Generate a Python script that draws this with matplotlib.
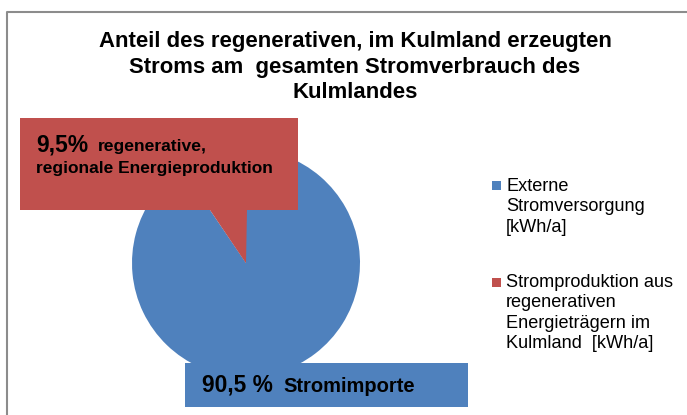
import matplotlib.pyplot as plt
from matplotlib.patches import Rectangle, Polygon

# data
shares = [90.5, 9.5]
legend_labels = ["Externe\nStromversorgung\n[kWh/a]",
                 "Stromproduktion aus\nregenerativen\nEnergieträgern im\nKulmland  [kWh/a]"]
colors = ["#4F81BD", "#C0504D"]
title_lines = ["Anteil des regenerativen, im Kulmland erzeugten",
               "Stroms am  gesamten Stromverbrauch des",
               "Kulmlandes"]

W, H = 687, 415
plt.rcParams['font.family'] = ['Liberation Sans', 'DejaVu Sans']
fig = plt.figure(figsize=(W / 100, H / 100), dpi=100)

# pixel-space overlay
bg = fig.add_axes([0, 0, 1, 1])
bg.set_xlim(0, W)
bg.set_ylim(H, 0)
bg.axis('off')
bg.plot([7, 7, W + 5], [H + 5, 12, 12], color='#8c8c8c', lw=1.5)

for i, line in enumerate(title_lines):
    bg.text(355, 41 + 26 * i, line, ha='center', va='center', fontsize=15.9,
            fontweight='bold')

# pie
cx, cy, r = 246, 263, 114
pax = fig.add_axes([(cx - r) / W, (H - cy - r) / H, 2 * r / W, 2 * r / H])
wedges, _ = pax.pie(shares, colors=colors, startangle=90, counterclock=False,
                    radius=1, wedgeprops=dict(linewidth=0))
pax.set_xlim(-1, 1)
pax.set_ylim(-1, 1)
pax.set_zorder(1)

top = fig.add_axes([0, 0, 1, 1])
top.set_xlim(0, W)
top.set_ylim(H, 0)
top.axis('off')
top.set_zorder(2)

# red callout
top.add_patch(Rectangle((20, 118), 278, 92, color=colors[1], lw=0))
top.add_patch(Polygon([(210, 209), (247, 209), (cx, cy)], color=colors[1], lw=0))
top.text(36, 145, f"{shares[1]:.1f}%".replace('.', ','), fontsize=16.5, fontweight='bold',
         va='center')
top.text(98, 146, "regenerative,", fontsize=12.6, fontweight='bold', va='center')
top.text(36, 168, "regionale Energieproduktion", fontsize=12.5, fontweight='bold',
         va='center')

# blue label box
top.add_patch(Rectangle((185, 363), 283, 44, color=colors[0], lw=0))
top.text(202, 385, f"{shares[0]:.1f} %".replace('.', ','), fontsize=16.4,
         fontweight='bold', va='center')
top.text(283, 386, "Stromimporte", fontsize=14.5, fontweight='bold', va='center')

# legend
entry_y = [186, 282]
for y0, lab, col in zip(entry_y, legend_labels, colors):
    top.add_patch(Rectangle((492, y0 - 4.5), 9, 9, color=col, lw=0))
    for j, line in enumerate(lab.split('\n')):
        top.text(506, y0 + 20.5 * j, line, fontsize=13.1, va='center')

fig.savefig("out.png", dpi=100)
